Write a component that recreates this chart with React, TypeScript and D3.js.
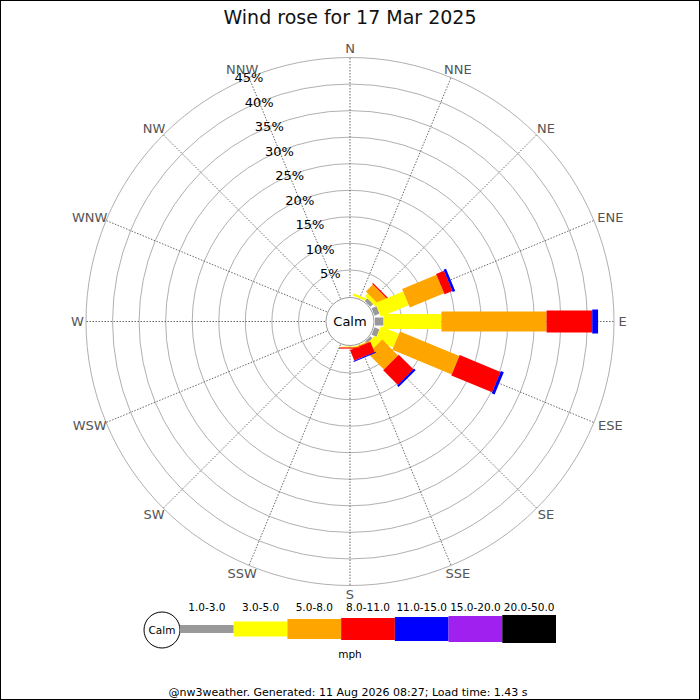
import * as d3 from "d3";

// 16 compass points, clockwise from north
const directions = ["N", "NNE", "NE", "ENE", "E", "ESE", "SE", "SSE", "S", "SSW", "SW", "WSW", "W", "WNW", "NW", "NNW"];

// wind speed bins (mph) and their colours
const speedBins = ["1.0-3.0", "3.0-5.0", "5.0-8.0", "8.0-11.0", "11.0-15.0", "15.0-20.0", "20.0-50.0"];
const binColors = ["#999999", "#ffff00", "#ffa500", "#ff0000", "#0000ff", "#a020f0", "#000000"];

// percentage of time per direction, one array per speed bin
const pct1to3 = [0, 0, 0.7, 1.0, 1.6, 1.0, 0.5, 0, 0, 0, 0, 0, 0, 0, 0, 0];
const pct3to5 = [0, 0.45, 0.7, 5.7, 10.9, 3.7, 1.5, 0.1, 0.1, 0, 0, 0, 0, 0, 0, 0];
const pct5to8 = [0, 0, 1.85, 7.0, 19.8, 12.1, 4.2, 0.2, 0.1, 0, 0, 0, 0, 0, 0, 0];
const pct8to11 = [0, 0, 0.25, 1.6, 8.6, 8.3, 3.9, 2.1, 0.2, 0, 0, 0, 0, 0, 0, 0];
const pct11to15 = [0, 0, 0, 0.5, 1.1, 0.6, 0.4, 0.2, 0, 0, 0, 0, 0, 0, 0, 0];
const pct15to20 = [0, 0, 0, 0, 0, 0, 0, 0, 0, 0, 0, 0, 0, 0, 0, 0];
const pct20to50 = [0, 0, 0, 0, 0, 0, 0, 0, 0, 0, 0, 0, 0, 0, 0, 0];

const ringTicks = [5, 10, 15, 20, 25, 30, 35, 40, 45];

const title = "Wind rose for 17 Mar 2025";
const footer = "@nw3weather. Generated: 11 Aug 2026 08:27; Load time: 1.43 s";

const W = 700;
const H = 700;
const cx = 350;
const cy = 321.5;
const r0 = 25;
const rMax = 264;
const barWidths = [8, 15, 20, 22, 24, 26, 28];
const font = "DejaVu Sans, sans-serif";

export default function App() {
  const bins = [pct1to3, pct3to5, pct5to8, pct8to11, pct11to15, pct15to20, pct20to50];
  const r = d3.scaleLinear().domain([0, 45]).range([r0, rMax]);
  const angle = d3.scaleLinear().domain([0, directions.length]).range([0, 360]);

  const pt = (deg: number, rad: number) => {
    const a = (deg * Math.PI) / 180;
    return [cx + rad * Math.sin(a), cy - rad * Math.cos(a)];
  };

  // stacked segments, drawn direction by direction
  const segments: { dir: number; k: number; from: number; to: number }[] = [];
  directions.forEach((_, i) => {
    const cum = Array.from(d3.cumsum(bins.map((b) => b[i])));
    bins.forEach((b, k) => {
      if (b[i] > 0) segments.push({ dir: i, k, from: k === 0 ? 0 : cum[k - 1], to: cum[k] });
    });
  });

  const legendX = d3.scaleBand<string>().domain(speedBins).range([180, 556]);
  const legendY = 629;

  const nnw = angle(15);

  return (
    <div style={{ position: "absolute", left: 0, top: 0 }}>
      <svg width={W} height={H} style={{ display: "block", fontFamily: font }}>
        <rect x={0.5} y={0.5} width={W - 1} height={H - 1} fill="#fff" stroke="#000" />
        <text x={cx} y={23.5} textAnchor="middle" fontSize={19} fill="#111">
          {title}
        </text>

        {ringTicks.map((t) => (
          <circle key={t} cx={cx} cy={cy} r={r(t)} fill="none" stroke="#b0b0b0" strokeWidth={1} />
        ))}

        {directions.map((d, i) => {
          const [x1, y1] = pt(angle(i), r0);
          const [x2, y2] = pt(angle(i), rMax);
          return (
            <line key={d} x1={x1} y1={y1} x2={x2} y2={y2} stroke="#444" strokeWidth={0.8} strokeDasharray="1.5,1.5" />
          );
        })}

        {segments.map((s, j) => (
          <rect
            key={j}
            transform={`translate(${cx},${cy}) rotate(${angle(s.dir)})`}
            x={-barWidths[s.k] / 2}
            y={-r(s.to)}
            width={barWidths[s.k]}
            height={r(s.to) - r(s.from)}
            fill={binColors[s.k]}
          />
        ))}

        <circle cx={cx} cy={cy} r={r0 - 1} fill="#fff" stroke="#999" strokeWidth={1} />
        <text x={cx} y={cy} textAnchor="middle" dominantBaseline="central" fontSize={13} fill="#000">
          Calm
        </text>

        {ringTicks.map((t) => {
          const [x, y] = pt(nnw, r(t));
          return (
            <text key={t} x={x} y={y} textAnchor="middle" dominantBaseline="central" fontSize={13} fill="#000">
              {t}%
            </text>
          );
        })}

        {directions.map((d, i) => {
          const a = (angle(i) * Math.PI) / 180;
          const [x, y] = pt(angle(i), 268);
          const halfW = (d.length * 9.2) / 2;
          return (
            <text
              key={d}
              x={x + halfW * Math.sin(a)}
              y={y - 5 * Math.cos(a)}
              textAnchor="middle"
              dominantBaseline="central"
              fontSize={13}
              fill="#555"
            >
              {d}
            </text>
          );
        })}

        {/* legend */}
        <circle cx={162} cy={legendY + 1} r={18} fill="#fff" stroke="#000" />
        <text x={162} y={legendY + 1} textAnchor="middle" dominantBaseline="central" fontSize={10.5}>
          Calm
        </text>
        {speedBins.map((b, k) => (
          <g key={b}>
            <rect
              x={legendX(b)}
              y={legendY - barWidths[k] / 2}
              width={legendX.bandwidth()}
              height={barWidths[k]}
              fill={binColors[k]}
            />
            <text x={legendX(b)! + legendX.bandwidth() / 2} y={611} textAnchor="middle" fontSize={10.5} fill="#000">
              {b}
            </text>
          </g>
        ))}
        <text x={cx} y={658} textAnchor="middle" fontSize={10.5} fill="#000">
          mph
        </text>

        <text x={348} y={692} textAnchor="middle" dominantBaseline="central" fontSize={11} fill="#000">
          {footer}
        </text>
      </svg>
    </div>
  );
}
